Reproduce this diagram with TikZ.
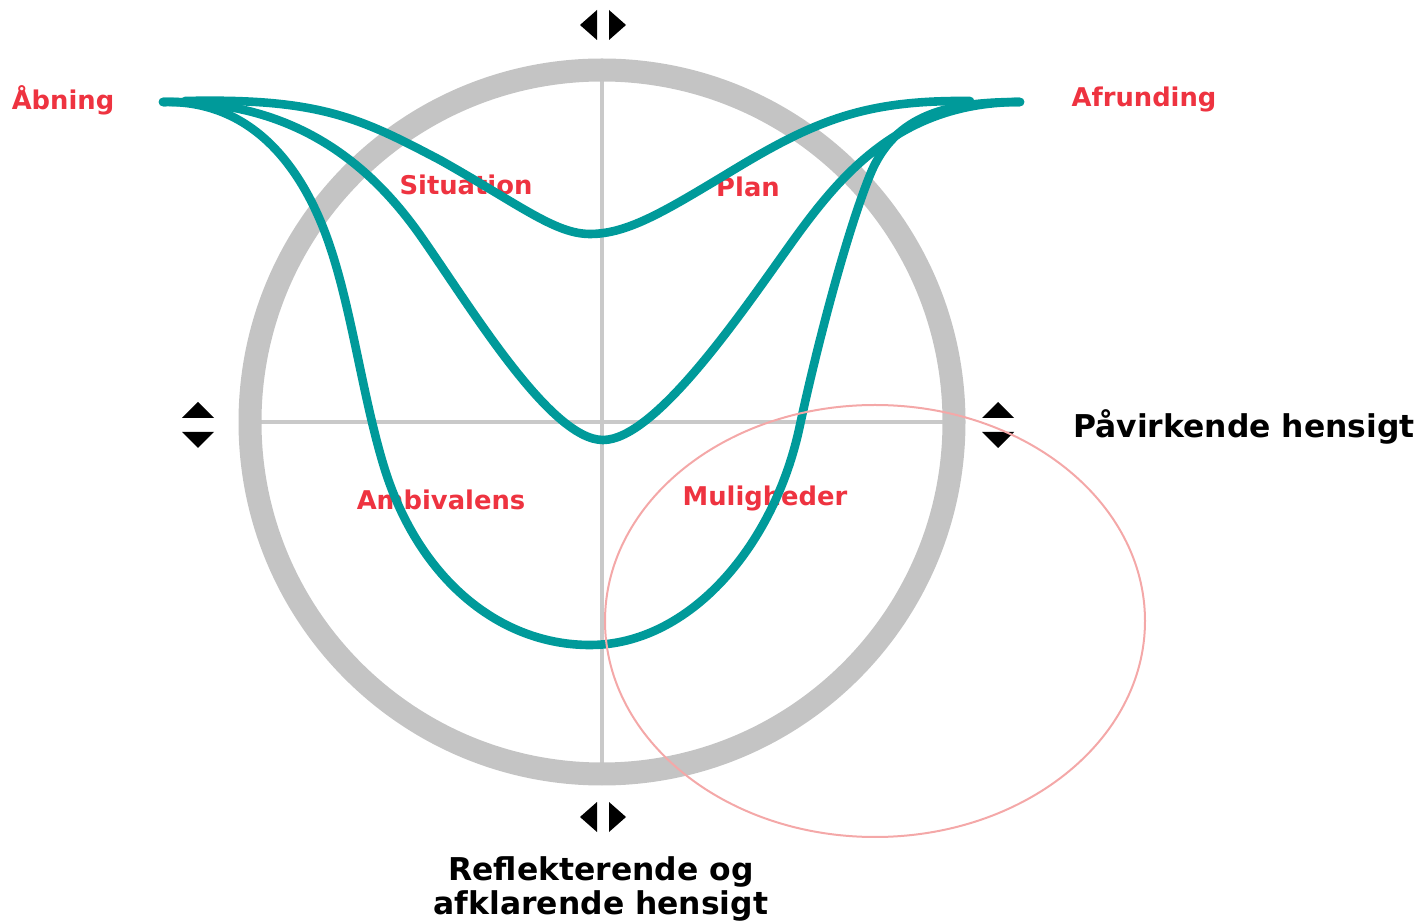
\documentclass[tikz,border=0pt]{standalone}
\usepackage{fontspec}
\setmainfont{DejaVu Sans}
\usetikzlibrary{positioning}
\definecolor{petrol}{HTML}{009A9A}
\definecolor{ringgray}{HTML}{C4C4C4}
\definecolor{axisgray}{HTML}{C9C9C9}
\definecolor{phase}{HTML}{EE3340}
\definecolor{blush}{HTML}{F4A8A8}
\begin{document}
\begin{tikzpicture}[x=0.5pt,y=-0.5pt,
  phs/.style={text=phase,font=\fontsize{12.9}{15}\selectfont\bfseries,inner sep=0pt},
  aim/.style={text=black,font=\fontsize{15.7}{17}\selectfont\bfseries,inner sep=0pt,align=center},
  axis/.style={draw=axisgray,line width=2pt},
  wave/.style={draw=petrol,line width=4.3pt,line cap=round},
  tri/.style={fill=black}]
\useasboundingbox (0,0) rectangle (1425,924);
% axes and ring
\coordinate (c) at (602,422);
\draw[axis] (260,422) -- (945,422); \draw[axis] (602,80) -- (602,765);
\draw[draw=ringgray,line width=11.5pt] (c) circle[radius=352];
% phase labels
\node[phs] (open) at (63,100) {Åbning}; \node[phs] (close) at (1144,99) {Afrunding};
\node[phs] (sit) at (466,185) {Situation}; \node[phs] (plan) at (748,187) {Plan};
\node[phs] (amb) at (441,500) {Ambivalens}; \node[phs] (mul) at (765,498) {Muligheder};
% intent labels
\node[aim] (inf) at (1244,427) {Påvirkende hensigt};
\node[aim] (ref) at (601,889) {Reflekterende og\\afklarende hensigt};
% markers
\foreach \y in {25,817} {
  \fill[tri] (597,\y-15) -- (597,\y+15) -- (580,\y) -- cycle;
  \fill[tri] (609,\y-15) -- (609,\y+15) -- (626,\y) -- cycle;}
\foreach \x in {198,998} {
  \fill[tri] (\x-16,418) -- (\x+16,418) -- (\x,402) -- cycle;
  \fill[tri] (\x-16,432) -- (\x+16,432) -- (\x,448) -- cycle;}
% the three conversation curves
\draw[wave] (185,101) .. controls (320,98) and (360,118) .. (440,160)
  .. controls (520,205) and (555,234) .. (590,234)
  .. controls (630,234) and (670,208) .. (740,166)
  .. controls (820,118) and (870,100) .. (970,101);
\draw[wave] (163,102) .. controls (280,100) and (360,150) .. (420,235)
  .. controls (470,306) and (550,440) .. (603,440)
  .. controls (655,440) and (740,315) .. (790,245)
  .. controls (840,175) and (900,102) .. (1020,102);
\draw[wave] (163,102) .. controls (240,100) and (290,150) .. (320,220)
  .. controls (350,290) and (360,390) .. (385,470)
  .. controls (420,580) and (500,645) .. (590,645)
  .. controls (690,645) and (775,545) .. (800,425)
  .. controls (815,355) and (845,237) .. (870,175)
  .. controls (895,113) and (950,102) .. (1020,102);
% marked region
\draw[blush,line width=1pt] (875,621) ellipse[x radius=270,y radius=216];
\end{tikzpicture}
\end{document}
